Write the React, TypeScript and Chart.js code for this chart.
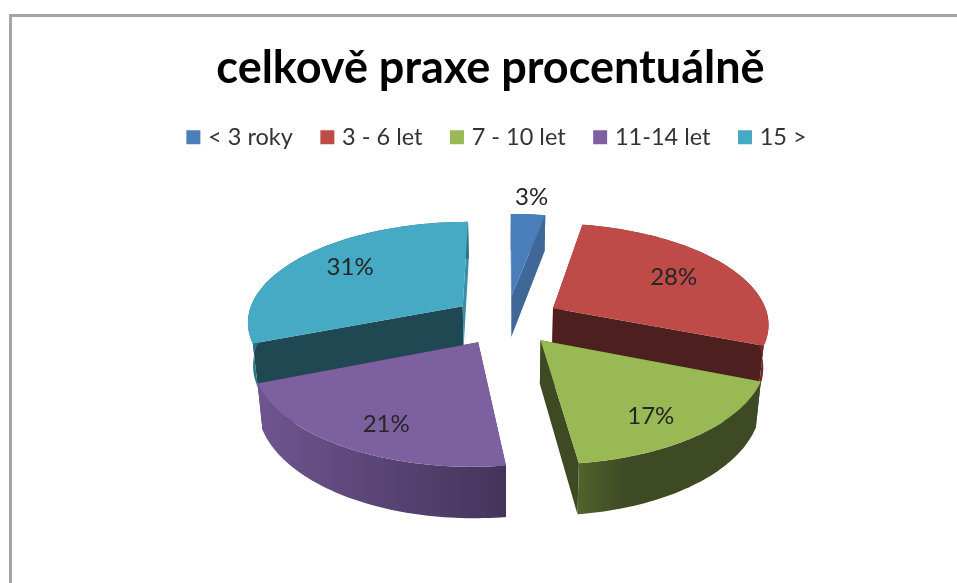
import React, { useEffect, useRef } from "react";
import { Chart, registerables } from "chart.js";

Chart.register(...registerables);

const categories = ["< 3 roky", "3 - 6 let", "7 - 10 let", "11-14 let", "15 >"];
const shares = [3, 28, 17, 21, 31];
const sliceColors = ["#4a7ebb", "#be4b48", "#98b954", "#7d60a0", "#46aac5"];

// wall shades for each slice
const startWall = ["#3f6797", "#8e3836", "#3e4a23", "#44345a", "#1f4852"];
const endWall = ["#3f6797", "#4d1f1e", "#3e4a23", "#44345a", "#3a8fa6"];
const outerFrom = ["#3f6797", "#6b2a28", "#52632c", "#6f5590", "#2f7183"];
const outerTo = ["#3f6797", "#6b2a28", "#3e4a23", "#44345a", "#2f7183"];
const labelReach = [1.5, 0.94, 1.03, 1.03, 0.97];
const labelTurn = [0, 0, 3, -2.5, 2];

// perspective model of the tilted, exploded pie (canvas coordinates)
const CX = 494.5, CY = 303, RX = 216, RY = 100, PERSP = 0.142, EXPLODE = 0.25, DEPTH = 42.5, SHRINK = 0.98;
const LEGEND_SHIFT_X = 8, LEGEND_SHIFT_Y = -7;

const project = (u: number, v: number) => {
  const s = 1 / (1 + PERSP * v);
  return { x: CX + u * RX * s, y: CY - v * RY * s, s };
};
const lower = (p: { x: number; y: number; s: number }) => ({
  x: CX + (p.x - CX) * SHRINK,
  y: p.y + DEPTH * p.s,
  s: p.s,
});

const pie3d = {
  id: "pie3d",
  afterLayout(chart: any) {
    chart.legend.left += LEGEND_SHIFT_X;
    chart.legend.right += LEGEND_SHIFT_X;
    chart.legend.top += LEGEND_SHIFT_Y;
    chart.legend.bottom += LEGEND_SHIFT_Y;
  },
  beforeDatasetsDraw(chart: any) {
    const ctx: CanvasRenderingContext2D = chart.ctx;
    const arcs = chart.getDatasetMeta(0).data;
    const poly = (pts: { x: number; y: number }[], fill: any) => {
      ctx.beginPath();
      pts.forEach((p, i) => (i ? ctx.lineTo(p.x, p.y) : ctx.moveTo(p.x, p.y)));
      ctx.closePath();
      ctx.fillStyle = fill;
      ctx.fill();
    };
    const order = [0, 1, 4, 3, 2];
    for (const i of order) {
      const a = arcs[i];
      const t0 = a.startAngle + Math.PI / 2;
      const t1 = a.endAngle + Math.PI / 2;
      const mid = (t0 + t1) / 2;
      const ou = Math.sin(mid) * EXPLODE;
      const ov = Math.cos(mid) * EXPLODE;
      const apex = project(ou, ov);
      const rim: any[] = [];
      const n = 60;
      for (let k = 0; k <= n; k++) {
        const t = t0 + ((t1 - t0) * k) / n;
        rim.push(project(ou + Math.sin(t), ov + Math.cos(t)));
      }
      const low = rim.map(lower);
      poly([apex, rim[0], low[0], lower(apex)], startWall[i]);
      poly([apex, rim[n], low[n], lower(apex)], endWall[i]);
      const xs = rim.map((p) => p.x);
      const g = ctx.createLinearGradient(Math.min(...xs), 0, Math.max(...xs), 0);
      if (i === 2) {
        g.addColorStop(0, outerFrom[i]);
        g.addColorStop(0.25, outerTo[i]);
        g.addColorStop(1, outerTo[i]);
      } else {
        g.addColorStop(0, outerFrom[i]);
        g.addColorStop(1, outerTo[i]);
      }
      poly([...rim, ...low.slice().reverse()], g);
      poly([apex, ...rim], sliceColors[i]);
    }
    ctx.save();
    ctx.fillStyle = "#262626";
    ctx.font = "24px Lato";
    ctx.textAlign = "center";
    ctx.textBaseline = "middle";
    arcs.forEach((a: any, i: number) => {
      const mid = (a.startAngle + a.endAngle) / 2 + Math.PI / 2 + (labelTurn[i] * Math.PI) / 180;
      const p = project(Math.sin(mid) * labelReach[i], Math.cos(mid) * labelReach[i]);
      ctx.fillText(`${shares[i]}%`, p.x, p.y);
    });
    ctx.restore();
    return false;
  },
};

export default function App() {
  const ref = useRef<HTMLCanvasElement>(null);
  useEffect(() => {
    const chart = new Chart(ref.current!, {
      type: "pie",
      data: {
        labels: categories,
        datasets: [{ data: shares, backgroundColor: sliceColors, borderWidth: 0 }],
      },
      options: {
        animation: false,
        responsive: false,
        layout: { padding: { top: 24, left: 12, right: 0, bottom: 0 } },
        plugins: {
          title: {
            display: true,
            text: "celkově praxe procentuálně",
            color: "#000000",
            font: { family: "Lato", size: 45, weight: "bold" },
            padding: { top: 0, bottom: 6 },
          },
          legend: {
            position: "top",
            labels: {
              usePointStyle: true,
              pointStyle: "rect",
              boxWidth: 6,
              boxHeight: 14,
              color: "#333333",
              font: { family: "Lato", size: 23.5 },
              padding: 31.5,
            },
          },
          tooltip: { enabled: false },
        },
      },
      plugins: [pie3d as any],
    });
    return () => chart.destroy();
  }, []);
  return (
    <div
      style={{
        position: "absolute",
        left: 9,
        top: 14,
        width: 948,
        height: 569,
        borderTop: "3px solid #a6a6a6",
        borderLeft: "3px solid #a6a6a6",
        boxSizing: "border-box",
        background: "#fff",
      }}
    >
      <canvas ref={ref} width={945} height={566} style={{ display: "block", filter: "blur(0.6px)" }} />
    </div>
  );
}
